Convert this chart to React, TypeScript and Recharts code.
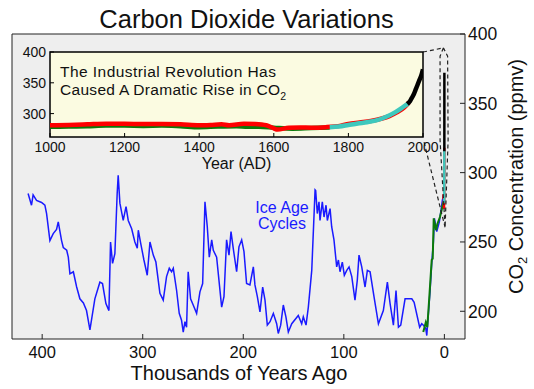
import React from "react";
import { ComposedChart, LineChart, Line, XAxis, YAxis, ReferenceArea } from "recharts";

const FONT = '"Liberation Sans", Arial, Helvetica, sans-serif';

// Vostok ice core: [thousand years ago, ppmv]
const vostok: [number, number][] = [
  [414, 285], [410.6, 276.5], [409, 284], [405.6, 280], [400.6, 278.5], [397.3, 276.5],
  [395.6, 270.5], [392.3, 251], [389, 256], [385.7, 259], [384, 264.5], [380.7, 251],
  [379, 246], [375.6, 244], [374, 239], [372.4, 227], [369, 228.5], [365.7, 217.5],
  [362.5, 209], [359, 206], [355.9, 200.5], [352.5, 186.5], [347.6, 209], [342.6, 221],
  [340, 220], [336.6, 205.5], [333.6, 200.5], [332, 250], [330, 234.5], [327.7, 241.5],
  [325.4, 285], [324.4, 298], [322.7, 278], [319.4, 265.5], [316.6, 275.5], [314.4, 265.5],
  [311, 259.5], [307.8, 250], [305.4, 245.5], [304.4, 258.5], [302, 249], [298.8, 237],
  [295.5, 226], [292.8, 250], [289.5, 240.5], [286.9, 235.5], [282.9, 213], [279.6, 208],
  [276.3, 225], [273.6, 231], [271.3, 228.5], [269.6, 231], [266.3, 215], [263.7, 198.5],
  [261.4, 193.5], [259.7, 185], [258, 192.5], [256.4, 188.5], [254.8, 228.5], [252.4, 209],
  [249.8, 204.5], [246.4, 198.5], [243.1, 214], [240.4, 220], [238.1, 279], [235.8, 261],
  [233.8, 239], [231.4, 251.5], [229.8, 244], [226.5, 239], [224.2, 222.5], [221.5, 203],
  [219.2, 210.5], [216.6, 251.5], [214.2, 240.5], [212.2, 257.5], [210, 245.5], [206.6, 228.5],
  [204.3, 246.5], [201.6, 251.5], [199.3, 243], [196.7, 220], [193.4, 219], [190, 232],
  [188.4, 219], [186, 210.5], [183.4, 199.5], [180.7, 217.5], [178.4, 208], [176.1, 190],
  [173.4, 192.5], [170.1, 198.5], [166.8, 191], [165.2, 184], [162.8, 190], [160.2, 204.5],
  [157.6, 196], [155.2, 185], [151.8, 191], [145.3, 197], [141.9, 191], [140.3, 196],
  [137.6, 190], [135.3, 203], [131.9, 229.5], [128.6, 287.5], [128, 287], [126.4, 270.5],
  [124.7, 279], [123.7, 265.5], [121.4, 279], [119.7, 268], [117.7, 276.5], [116.4, 265.5],
  [113.7, 274], [112.1, 261], [109.8, 251.5], [107.1, 232], [105.4, 237], [103.8, 228.5],
  [101.5, 235.5], [99.5, 226], [97.1, 229.5], [94.8, 232], [92.1, 225], [88.9, 208],
  [86.6, 222.5], [84.9, 240.5], [82.2, 232], [78.9, 217.5], [76.6, 229.5], [73.9, 228.5],
  [70, 210.5], [65.6, 191], [60.7, 200.5], [56.7, 221], [54, 205.5], [50.7, 190],
  [48.1, 215], [45.7, 188.5], [43.4, 190], [39.1, 209], [32.4, 209], [30.1, 206.5],
  [24.6, 188.5], [22.5, 191], [20.9, 190], [18.5, 187.5], [17.5, 182.5], [14.2, 215],
  [12.5, 235.5], [10.9, 250], [9.9, 267], [7.6, 257.5], [5, 264.5], [2, 280], [1, 283.5],
];

// Holocene ice core (green): [thousand years ago, ppmv]
const holocene: [number, number][] = [
  [21, 185], [18.5, 192], [17, 188.5], [15, 210], [12.6, 237], [11.6, 238], [10.6, 267],
  [8.3, 258.5], [7, 263], [4.4, 268], [2.7, 273], [1, 279],
];

// last millennium: [year AD, ppmv]
const lawDome: [number, number][] = [
  [1000, 278.5], [1050, 279], [1100, 279.5], [1150, 280.5], [1200, 280.5], [1250, 280],
  [1300, 280.5], [1350, 279.5], [1400, 278], [1450, 279], [1500, 279.5], [1530, 278.5],
  [1560, 278.5], [1600, 277], [1650, 275.5], [1700, 276.5], [1750, 277.5],
];
const siple: [number, number][] = [
  [1000, 281], [1050, 281.5], [1100, 282.5], [1150, 283.5], [1200, 283.5], [1250, 283],
  [1300, 283], [1350, 282.5], [1400, 281], [1430, 281.5], [1460, 282.5], [1480, 281],
  [1520, 283.5], [1550, 283], [1580, 281], [1600, 276], [1610, 274], [1640, 277],
  [1670, 277.5], [1700, 277], [1740, 278], [1780, 280.5], [1800, 283], [1830, 285.5],
  [1860, 288], [1890, 292], [1910, 296], [1930, 302], [1950, 310], [1962, 318],
];
const firn: [number, number][] = [
  [1750, 278], [1775, 279], [1800, 281.5], [1825, 284], [1850, 286], [1875, 289],
  [1900, 294.5], [1925, 302], [1950, 312], [1960, 316],
];
const maunaLoa: [number, number][] = [
  [1958, 315.5], [1965, 320], [1970, 325.5], [1975, 331], [1980, 338.5], [1985, 346],
  [1990, 354], [1995, 361], [2000, 372],
];

// dashed zoom callout, in the main chart's units
const calloutTop: [number, number][] = [[21.2, 387], [1.0, 390]];
const calloutLoop: [number, number][] = [
  [1.0, 390], [4.3, 384], [4.3, 323.5], [-0.7, 260.6], [-3.7, 323.5], [-3.2, 384], [1.0, 390],
];
const calloutBottom: [number, number][] = [[20.2, 322], [-0.7, 260.6]];

const mainXTicks = [400, 300, 200, 100, 0];
const mainYTicks = [200, 250, 300, 350, 400];
const insetXTicks = [1000, 1200, 1400, 1600, 1800, 2000];
const insetYTicks = [300, 350, 400];

const pts = (arr: [number, number][]) => arr.map(([x, y]) => ({ x, y }));
const toKyr = (arr: [number, number][]) => arr.map(([yr, v]) => ({ x: (2000 - yr) / 1000, y: v }));

const MainBottomTick = (p: any) => (
  <g>
    <line x1={p.x} y1={p.y} x2={p.x} y2={p.y - 5} stroke="#222" />
    <text x={p.x} y={p.y + 19} textAnchor="middle" fontSize={16.5} fontFamily={FONT} fill="#111">
      {p.payload.value}
    </text>
  </g>
);

const MainRightTick = (p: any) => (
  <g>
    <line x1={p.x} y1={p.y} x2={p.x - 5} y2={p.y} stroke="#222" />
    <text x={p.x + 3} y={p.y + 6.3} textAnchor="start" fontSize={17.5} fontFamily={FONT} fill="#111">
      {p.payload.value}
    </text>
  </g>
);

const InsetBottomTick = (p: any) => (
  <g>
    <line x1={p.x} y1={p.y} x2={p.x} y2={p.y - 4} stroke="#000" />
    <text x={p.x} y={p.y + 15} textAnchor="middle" fontSize={14} fontFamily={FONT} fill="#111">
      {p.payload.value}
    </text>
  </g>
);

const InsetLeftTick = (p: any) => (
  <g>
    <line x1={p.x} y1={p.y} x2={p.x + 4} y2={p.y} stroke="#000" />
    <text x={p.x - 4} y={p.y + 5} textAnchor="end" fontSize={14} fontFamily={FONT} fill="#111">
      {p.payload.value}
    </text>
  </g>
);

const InsetRightTick = (p: any) => (
  <line x1={p.x} y1={p.y} x2={p.x - 4} y2={p.y} stroke="#000" />
);

export default function App() {
  return (
    <div style={{ position: "absolute", left: 0, top: 0, width: 534, height: 389, background: "#fff" }}>
      <ComposedChart width={534} height={389} margin={{ top: 34, left: 12, right: 0, bottom: 0 }}>
        <XAxis
          type="number"
          dataKey="x"
          domain={[-20.5, 430]}
          reversed
          allowDataOverflow
          ticks={mainXTicks}
          interval={0}
          height={50}
          tickSize={0}
          tickMargin={0}
          tickLine={false}
          axisLine={false}
          tick={MainBottomTick}
        />
        <YAxis
          type="number"
          orientation="right"
          domain={[180, 400]}
          allowDataOverflow
          ticks={mainYTicks}
          interval={0}
          width={69}
          tickSize={0}
          tickMargin={0}
          tickLine={false}
          axisLine={false}
          tick={MainRightTick}
        />
        <ReferenceArea x1={-20.5} x2={430} y1={180} y2={400} fill="#eeeeee" fillOpacity={1} stroke="#222" strokeWidth={1} ifOverflow="visible" />
        <Line data={pts(vostok)} dataKey="y" stroke="#1a1aff" strokeWidth={1.5} dot={false} activeDot={false} isAnimationActive={false} />
        <Line data={pts(holocene)} dataKey="y" stroke="#0b7a0b" strokeWidth={2} dot={false} activeDot={false} isAnimationActive={false} />
        <Line data={toKyr(siple)} dataKey="y" stroke="#ff0000" strokeWidth={2.5} dot={false} activeDot={false} isAnimationActive={false} />
        <Line data={toKyr(firn)} dataKey="y" stroke="#3ec8bd" strokeWidth={2.5} dot={false} activeDot={false} isAnimationActive={false} />
        <Line data={toKyr(maunaLoa)} dataKey="y" stroke="#000" strokeWidth={2.5} dot={false} activeDot={false} isAnimationActive={false} />
        <Line data={pts(calloutTop)} dataKey="y" stroke="#222" strokeWidth={1.2} strokeDasharray="4 3" dot={false} activeDot={false} isAnimationActive={false} />
        <Line data={pts(calloutLoop)} dataKey="y" stroke="#222" strokeWidth={1.2} strokeDasharray="4 3" dot={false} activeDot={false} isAnimationActive={false} />
        <Line data={pts(calloutBottom)} dataKey="y" stroke="#222" strokeWidth={1.2} strokeDasharray="4 3" dot={false} activeDot={false} isAnimationActive={false} />
      </ComposedChart>

      <div style={{ position: "absolute", left: 0, top: 0 }}>
        <LineChart width={534} height={389} margin={{ top: 52, left: 0, right: 111, bottom: 0 }}>
          <XAxis
            type="number"
            dataKey="x"
            domain={[1000, 2000]}
            allowDataOverflow
            ticks={insetXTicks}
            interval={0}
            height={252}
            tickSize={0}
            tickMargin={0}
            tickLine={false}
            axisLine={false}
            tick={InsetBottomTick}
          />
          <YAxis
            type="number"
            domain={[262, 400]}
            allowDataOverflow
            ticks={insetYTicks}
            interval={0}
            width={50}
            tickSize={0}
            tickMargin={0}
            tickLine={false}
            axisLine={false}
            tick={InsetLeftTick}
          />
          <YAxis
            yAxisId="r"
            type="number"
            orientation="right"
            domain={[262, 400]}
            allowDataOverflow
            ticks={[300, 350]}
            interval={0}
            width={0}
            tickSize={0}
            tickMargin={0}
            tickLine={false}
            axisLine={false}
            tick={InsetRightTick}
          />
          <ReferenceArea x1={1000} x2={2000} y1={262} y2={400} fill="#fbfbe1" fillOpacity={1} stroke="#000" strokeWidth={1.5} ifOverflow="visible" />
          <Line data={pts(lawDome)} dataKey="y" type="monotone" stroke="#0b7a0b" strokeWidth={4.5} dot={false} activeDot={false} isAnimationActive={false} />
          <Line data={pts(siple)} dataKey="y" type="monotone" stroke="#ff0000" strokeWidth={4.5} dot={false} activeDot={false} isAnimationActive={false} />
          <Line data={pts(firn)} dataKey="y" type="monotone" stroke="#3ec8bd" strokeWidth={4.5} dot={false} activeDot={false} isAnimationActive={false} />
          <Line data={pts(maunaLoa)} dataKey="y" type="monotone" stroke="#000" strokeWidth={4.5} dot={false} activeDot={false} isAnimationActive={false} />
        </LineChart>
      </div>

      <svg width={534} height={389} style={{ position: "absolute", left: 0, top: 0, pointerEvents: "none" }} fontFamily={FONT}>
        <text x={246.5} y={28} textAnchor="middle" fontSize={25.5} fill="#111">Carbon Dioxide Variations</text>
        <text x={239} y={380} textAnchor="middle" fontSize={20} fill="#111">Thousands of Years Ago</text>
        <text x={523} y={176.5} textAnchor="middle" fontSize={20} fill="#111" transform="rotate(-90 523 176.5)">
          CO<tspan fontSize={13} dy={4}>2</tspan><tspan dy={-4}> Concentration (ppmv)</tspan>
        </text>
        <text x={236.5} y={169} textAnchor="middle" fontSize={16} fill="#111">Year (AD)</text>
        <text x={60} y={77} fontSize={15.5} letterSpacing={0.45} fill="#111">The Industrial Revolution Has</text>
        <text x={60} y={94.5} fontSize={15.5} letterSpacing={0.3} fill="#111">
          Caused A Dramatic Rise in CO<tspan fontSize={10.5} dy={5}>2</tspan>
        </text>
        <text x={282} y={213} textAnchor="middle" fontSize={16} fill="#1a1aff">Ice Age</text>
        <text x={282} y={229} textAnchor="middle" fontSize={16} fill="#1a1aff">Cycles</text>
      </svg>
    </div>
  );
}
